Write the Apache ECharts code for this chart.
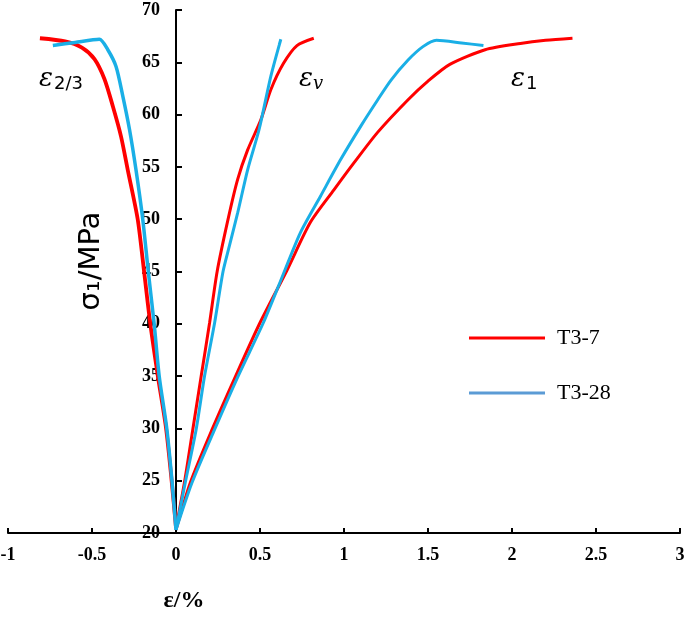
<!DOCTYPE html>
<html>
<head>
<meta charset="utf-8">
<script src="https://cdn.jsdelivr.net/npm/echarts@6/dist/echarts.min.js"></script>
<style>html,body{margin:0;padding:0;background:#fff;}#c{width:685px;height:617px;}</style>
</head>
<body>
<div id="c"></div>
<script>
// T3-7 (red)
const t37_e1 = [[0,20.3],[0.085,24.8],[0.215,29.9],[0.355,35],[0.50,40.1],[0.66,45.1],[0.80,49.7],[0.94,52.8],[1.06,55.4],[1.20,58.3],[1.38,61.4],[1.50,63.2],[1.63,64.8],[1.84,66.2],[2.05,66.8],[2.2,67.1],[2.36,67.3]];
const t37_ev = [[0,20.5],[0.05,24.8],[0.10,29.9],[0.15,35],[0.20,40.1],[0.245,45],[0.31,50],[0.367,53.8],[0.426,56.6],[0.505,59.5],[0.565,62.4],[0.64,64.9],[0.72,66.6],[0.82,67.3]];
const t37_e23 = [[0,20.5],[-0.026,25],[-0.059,30],[-0.108,35],[-0.153,40],[-0.19,45],[-0.228,50],[-0.287,54.7],[-0.327,57.9],[-0.376,60.8],[-0.426,63.4],[-0.485,65.3],[-0.56,66.4],[-0.66,67.0],[-0.81,67.3]];
// T3-28 (blue)
const t328_e1 = [[0,20.3],[0.095,24.8],[0.23,29.9],[0.37,35],[0.52,40.1],[0.62,44],[0.74,48.7],[0.86,52.2],[0.98,55.7],[1.10,58.9],[1.20,61.4],[1.28,63.3],[1.38,65.2],[1.47,66.5],[1.55,67.1],[1.70,66.85],[1.83,66.6]];
const t328_ev = [[0,20.3],[0.055,24.8],[0.12,29.9],[0.17,35],[0.23,40.1],[0.28,45],[0.317,47.4],[0.367,50.6],[0.426,54.7],[0.495,58.6],[0.565,63.7],[0.624,67.2],[0.615,66.7]];
const t328_e23 = [[0,20.3],[-0.024,25],[-0.055,30],[-0.10,35],[-0.13,40],[-0.165,45],[-0.198,50],[-0.238,54.7],[-0.277,58.6],[-0.317,61.8],[-0.357,64.6],[-0.406,66.2],[-0.456,67.2],[-0.6,66.9],[-0.733,66.6]];

const xTicks = [-1,-0.5,0,0.5,1,1.5,2,2.5,3];
const yTicks = [20,25,30,35,40,45,50,55,60,65,70];

const RED = '#ff0000', BLUE = '#1aafe6';
const W = 685, GL = 8, GR = 5;
const xMin = xTicks[0], xMax = xTicks[xTicks.length-1];
// place the y axis where x = 0 on the x scale
const yAxisOffset = -((0 - xMin) / (xMax - xMin)) * (W - GL - GR);

const chart = echarts.init(document.getElementById('c'), null, {renderer:'canvas'});
function s(name, data, color, w){
  return {name, type:'line', data, symbol:'none', smooth:0.25, clip:false,
    lineStyle:{color, width:w||3}, itemStyle:{color}};
}
const labelFont = {fontFamily:'Liberation Serif', fontWeight:'bold', fontSize:18, color:'#000'};
chart.setOption({
  animation:false,
  backgroundColor:'#fff',
  grid:{left:GL, right:GR, top:10, bottom:84, containLabel:false, outerBoundsMode:'none'},
  xAxis:{type:'value', min:xMin, max:xMax, interval:0.5,
    axisLine:{onZero:false, lineStyle:{color:'#000', width:2}},
    axisTick:{inside:true, length:5, lineStyle:{color:'#000', width:2}},
    axisLabel:Object.assign({margin:13, formatter:v=>String(v)}, labelFont),
    splitLine:{show:false}},
  yAxis:{type:'value', position:'left', offset:yAxisOffset,
    min:yTicks[0], max:yTicks[yTicks.length-1], interval:5,
    axisLine:{onZero:false, lineStyle:{color:'#000', width:2}},
    axisTick:{inside:true, length:6, lineStyle:{color:'#000', width:2}},
    axisLabel:Object.assign({margin:16, showMinLabel:true, showMaxLabel:true}, labelFont),
    splitLine:{show:false}},
  legend:{orient:'vertical', left:469, top:327, padding:0, itemWidth:76, itemHeight:3, itemGap:33, icon:'rect',
    textStyle:{fontFamily:'Liberation Serif', fontSize:22, color:'#000', padding:[0,0,0,7]},
    data:[{name:'T3-7'},{name:'T3-28', itemStyle:{color:'#5b9bd5'}}]},
  series:[
    s('T3-7', t37_e1, RED), s('T3-7', t37_ev, RED), s('T3-7', t37_e23, RED, 3.8),
    s('T3-28', t328_e1, BLUE), s('T3-28', t328_ev, BLUE), s('T3-28', t328_e23, BLUE, 3.5)
  ],
  graphic:[
    {type:'text', x:184, y:601, style:{text:'ε/%', font:'bold 24px "Liberation Serif"', fill:'#000', textAlign:'center', textVerticalAlign:'middle'}},
    {type:'text', x:91, y:261, rotation:Math.PI/2, style:{text:'σ₁/MPa', font:'29px "DejaVu Sans"', fill:'#000', textAlign:'center', textVerticalAlign:'middle'}},
    {type:'text', left:39, top:66, style:{rich:{e:{font:'italic 26px "DejaVu Serif"', fill:'#000'}, s:{font:'18px "DejaVu Sans"', fill:'#000', padding:[11,0,0,1]}}, text:'{e|ε}{s|2/3}'}},
    {type:'text', left:299, top:66, style:{rich:{e:{font:'italic 26px "DejaVu Serif"', fill:'#000'}, s:{font:'italic 18px "DejaVu Serif"', fill:'#000', padding:[11,0,0,0]}}, text:'{e|ε}{s|v}'}},
    {type:'text', left:511, top:66, style:{rich:{e:{font:'italic 26px "DejaVu Serif"', fill:'#000'}, s:{font:'18px "DejaVu Sans"', fill:'#000', padding:[11,0,0,1]}}, text:'{e|ε}{s|1}'}}
  ]
});
</script>
</body>
</html>
